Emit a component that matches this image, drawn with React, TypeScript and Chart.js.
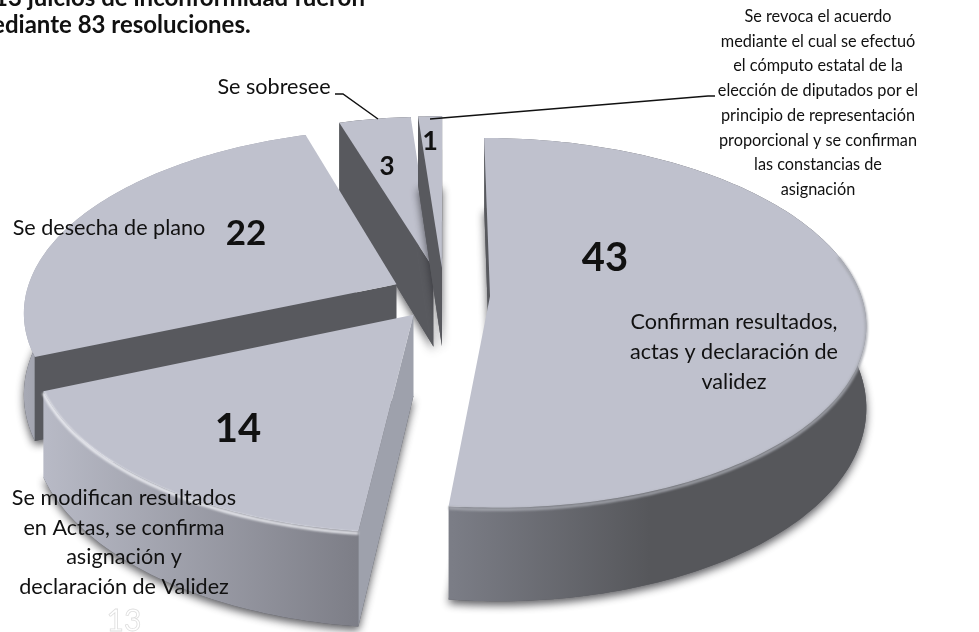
import React, { useEffect, useRef } from "react";
import { Chart, registerables } from "chart.js";

Chart.register(...registerables);

const categories = [
  "Confirman resultados, actas y declaración de validez",
  "Se modifican resultados en Actas, se confirma asignación y declaración de Validez",
  "Se desecha de plano",
  "Se sobresee",
  "Se revoca el acuerdo mediante el cual se efectuó el cómputo estatal de la elección de diputados por el principio de representación proporcional y se confirman las constancias de asignación",
];
const values = [43, 14, 22, 3, 1];
const titleLines = ["13 juicios de inconformidad fueron", "mediante 83 resoluciones."];
const categoryLines = [
  ["Confirman resultados,", "actas y declaración de", "validez"],
  ["Se modifican resultados", "en Actas, se confirma", "asignación y", "declaración de Validez"],
  ["Se desecha de plano"],
  ["Se sobresee"],
  [
    "Se revoca el acuerdo",
    "mediante el cual se efectuó",
    "el cómputo estatal de la",
    "elección de diputados por el",
    "principio de representación",
    "proporcional y se confirman",
    "las constancias de",
    "asignación",
  ],
];
const pageNumber = "13";

const FONT = "Lato, Carlito, 'Open Sans', sans-serif";
const TOP = "#bfc1cd";
const DARK = "#58595e";
const RX = 371;
const KY = 180.7;
const PERSP = 0.1436;
const DEPTH = 80;

const explode = [34, 37, 39, 42, 42];
const drawOrder = [3, 4, 2, 1, 0];
const wallStops: [number, number, string, string][] = [
  [452, 650, "#7b7d86", "#56575b"],
  [38, 357, "#b9bbc7", "#7d7e87"],
  [20, 60, "#a9abb6", "#9a9ca7"],
  [340, 420, DARK, DARK],
  [420, 445, DARK, DARK],
];
const startCut = [DARK, "#9ea1ac", DARK, DARK, DARK];
const rimGlow = ["rgba(165,167,175,0.9)", "rgba(240,241,245,0.9)", "", "", ""];

type P = [number, number];

const pie3d = {
  id: "pie3d",
  beforeDatasetsDraw(chart: any) {
    const ctx: CanvasRenderingContext2D = chart.ctx;
    const arcs = chart.getDatasetMeta(0).data;
    for (const i of drawOrder) {
      const a = arcs[i];
      const R = a.outerRadius;
      const mid = (a.startAngle + a.endAngle) / 2;
      const e = a.options.offset / R;
      const gx = e * Math.cos(mid);
      const gu = -e * Math.sin(mid);
      const proj = (x: number, u: number, h: number): P => {
        const d = 1 + PERSP * u;
        return [a.x + (RX * x) / d, a.y - (KY * u) / d + (h * DEPTH) / d];
      };
      const rim: [number, number][] = [];
      const steps = Math.max(2, Math.ceil((a.endAngle - a.startAngle) / 0.02));
      for (let s = 0; s <= steps; s++) {
        const t = a.startAngle + ((a.endAngle - a.startAngle) * s) / steps;
        rim.push([gx + Math.cos(t), gu - Math.sin(t)]);
      }
      const poly = (pts: P[]) => {
        ctx.beginPath();
        pts.forEach((p, n) => (n ? ctx.lineTo(p[0], p[1]) : ctx.moveTo(p[0], p[1])));
        ctx.closePath();
      };
      const top = [proj(gx, gu, 0), ...rim.map((r) => proj(r[0], r[1], 0))];
      const bottom = [proj(gx, gu, 1), ...rim.map((r) => proj(r[0], r[1], 1))];

      ctx.save();
      ctx.shadowColor = "rgba(40,40,45,0.75)";
      ctx.shadowBlur = 8;
      ctx.shadowOffsetY = 4;
      ctx.fillStyle = DARK;
      poly(bottom);
      ctx.fill();
      ctx.restore();

      const [gxa, gxb, ca, cb] = wallStops[i];
      const g = ctx.createLinearGradient(gxa, 0, gxb, 0);
      g.addColorStop(0, ca);
      g.addColorStop(1, cb);
      ctx.fillStyle = g;
      poly([...rim.map((r) => proj(r[0], r[1], 0)), ...rim.slice().reverse().map((r) => proj(r[0], r[1], 1))]);
      ctx.fill();

      const first = rim[0];
      const last = rim[rim.length - 1];
      const apexX = proj(gx, gu, 0)[0];
      if (proj(first[0], first[1], 0)[0] < apexX) {
        ctx.fillStyle = startCut[i];
        poly([proj(gx, gu, 0), proj(gx, gu, 1), proj(first[0], first[1], 1), proj(first[0], first[1], 0)]);
        ctx.fill();
      }
      if (proj(last[0], last[1], 0)[0] > apexX) {
        ctx.fillStyle = DARK;
        poly([proj(gx, gu, 0), proj(gx, gu, 1), proj(last[0], last[1], 1), proj(last[0], last[1], 0)]);
        ctx.fill();
      }

      ctx.fillStyle = TOP;
      poly(top);
      ctx.fill();

      if (rimGlow[i]) {
        ctx.save();
        ctx.filter = "blur(1px)";
        ctx.strokeStyle = rimGlow[i];
        ctx.lineWidth = 3;
        ctx.beginPath();
        let started = false;
        rim.forEach((r) => {
          if (r[1] > gu + 0.25) return;
          const p = proj(r[0], r[1], 0.02);
          if (started) ctx.lineTo(p[0], p[1]);
          else ctx.moveTo(p[0], p[1]);
          started = true;
        });
        ctx.stroke();
        ctx.restore();
      }
    }
    return false;
  },
  afterDraw(chart: any) {
    const ctx: CanvasRenderingContext2D = chart.ctx;
    ctx.save();
    ctx.textBaseline = "alphabetic";
    ctx.fillStyle = "#111";

    ctx.font = `bold 24px ${FONT}`;
    ctx.textAlign = "left";
    ctx.fillText(titleLines[0], -6, 6);
    ctx.fillText(titleLines[1], -28, 33);

    ctx.strokeStyle = "#111";
    ctx.lineWidth = 1.5;
    ctx.beginPath();
    ctx.moveTo(335, 94);
    ctx.lineTo(343, 94);
    ctx.lineTo(378, 119);
    ctx.stroke();
    ctx.beginPath();
    ctx.moveTo(430, 119);
    ctx.lineTo(708, 96);
    ctx.lineTo(715, 96);
    ctx.stroke();

    const block = (lines: string[], x: number, y: number, lh: number, size: number) => {
      ctx.font = `${size}px ${FONT}`;
      ctx.textAlign = "center";
      lines.forEach((l, n) => ctx.fillText(l, x, y + n * lh));
    };
    block(categoryLines[0], 734, 329, 30, 21.6);
    block(categoryLines[1], 124, 505, 29.6, 21.6);
    block(categoryLines[2], 109, 235, 30, 21.6);
    block(categoryLines[3], 274, 94, 30, 21.6);
    block(categoryLines[4], 818, 22, 24.7, 16.3);

    const num = (v: number, x: number, y: number, size: number) => {
      ctx.font = `bold ${size}px ${FONT}`;
      ctx.textAlign = "center";
      ctx.fillText(String(v), x, y);
    };
    num(values[0], 605, 271, 40);
    num(values[1], 238, 442, 40);
    num(values[2], 246, 245, 35);
    num(values[3], 387, 175, 26);
    num(values[4], 430, 150, 27);

    ctx.font = `30px ${FONT}`;
    ctx.textAlign = "center";
    ctx.strokeStyle = "#dedede";
    ctx.lineWidth = 0.8;
    ctx.strokeText(pageNumber, 124, 631);
    ctx.restore();
  },
};

export default function App() {
  const ref = useRef<HTMLCanvasElement>(null);
  useEffect(() => {
    document.body.style.margin = "0";
    const chart = new Chart(ref.current!, {
      type: "pie",
      data: {
        labels: categories,
        datasets: [{ data: values, backgroundColor: TOP, borderWidth: 0, offset: explode }],
      },
      options: {
        animation: false,
        responsive: false,
        rotation: 0,
        layout: { padding: { left: 0, right: 91, top: 0, bottom: 42 } },
        plugins: { legend: { display: false }, tooltip: { enabled: false } },
      },
      plugins: [pie3d],
    } as any);
    return () => chart.destroy();
  }, []);
  return (
    <div style={{ position: "absolute", left: 0, top: 0, width: 979, height: 632, background: "#fff", overflow: "hidden" }}>
      <canvas ref={ref} width={979} height={632} style={{ display: "block" }} />
    </div>
  );
}
